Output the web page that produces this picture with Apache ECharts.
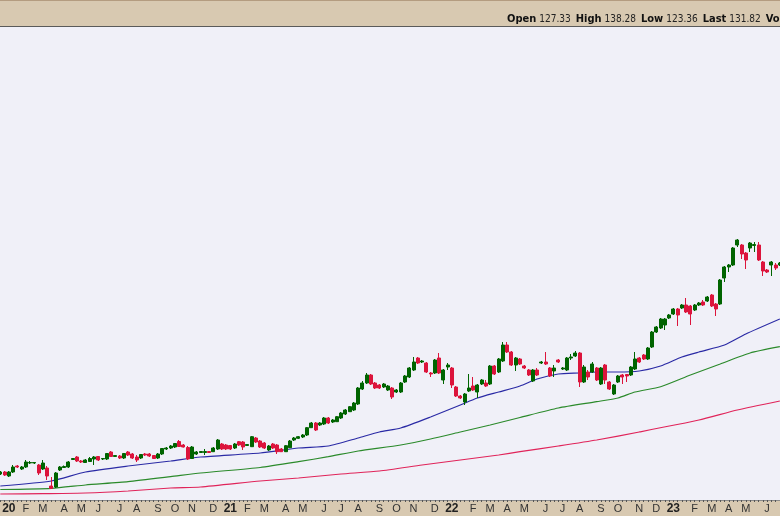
<!DOCTYPE html>
<html>
<head>
<meta charset="utf-8">
<script src="https://cdn.jsdelivr.net/npm/echarts@6/dist/echarts.min.js"></script>
<style>html,body{margin:0;padding:0;background:#d8c9b1;}#c{width:780px;height:516px;}</style>
</head>
<body>
<div id="c"></div>
<script>
// Weekly bars, first bar = week of 2019-12-23
const startWeek = '2019-12-23';
const monthLetters = ['J','F','M','A','M','J','J','A','S','O','N','D'];

const opens = [
28,29,27,29,32,30.5,31.5,33.5,33.5,32.5,
30.5,31,22,21.5,30,31.25,31.5,35.25,36.5,34.5,
33.75,34.25,35.5,36.75,35.5,35.5,39,36.75,37,36,
39,38,36.5,36,38,38,37.25,36,38,40.5,
41,41.5,44.25,42.5,41.25,35.75,38,38.75,38.75,39.25,
39.15,40.5,43,42.5,42.25,41,44.15,44,42.25,41.65,
46,44.5,43.5,40,43,42.5,40.5,39.15,41.15,45,
45.85,46.5,47.5,51.15,53.5,52.5,53,56,54,54.15,
56,58,59.15,60,63,70.5,73.5,77.5,73.5,72.5,
71.5,70,71,69,69,74,76.5,80,86,84,
83.5,78.5,78.5,86,75,81.5,81,71.5,67,64,
69.5,72,69,73,73.5,73,82,79,84.5,92.5,
89,82.5,85.5,82,80,74.5,80,83.5,84,81,
79.5,85,80.5,80,86,87,88.5,74,79,79,
81,73,82.5,74,68,74,77.5,77.75,77.5,80.5,
86,87.5,85.5,91.5,99,101,102.5,106,108,110.5,
111,112.5,112,110,112.5,114,114.5,117.5,113,113,
126,131.5,132.5,142.5,142.5,138.5,141,142.25,142.5,134,
130,132.5,132.5,132.5];
const closes = [
29,27.5,29,31.5,31.5,31.5,34,33.75,33.75,28.5,
33.5,27,20.75,28.5,31.5,31.75,34,35.75,34.5,34,
35,35.75,36.5,35,35.75,38.25,36.75,37.25,36,38.25,
37.5,36,35,37.75,37.5,37,35.75,38,40.75,41,
42,43.25,41.75,41.5,35.5,41.5,39,39.25,39.25,38.75,
41,45,40.5,40.5,40.5,43,42.5,41.5,42.75,46.65,
44,41.5,41,42,41,39.15,39.15,42.15,44.5,46,
46.65,47.5,51.15,53.5,50,53.5,56,53.5,55,56.65,
58.5,60,61.65,63.5,71,73.5,77.5,73,71,71,
73,72,66.5,70,73.5,77,81,84,83.5,84.5,
79,78,85,78.5,80,82.5,72.5,67,66,68,
71,70,72.5,75,72,82,78,85.5,92.5,89,
82.5,86,83,81,77.5,80,77.5,84,83,77,
81,84,81,86,86.5,88.5,74,81.5,76.5,83,
75,81,75,70.5,72.5,77,76.5,77,81.5,85.5,
84,85.5,91,99,101.5,105.5,105.5,107.5,110.5,107.5,
112.5,109,108,112.5,113.5,112.5,116.5,112,110.5,125,
131.5,132.5,141,145,138,135,143.5,142.75,135,129.5,
129,134,131,133.5];
const lows = [
27.5,27,26.5,28.5,31,30,31,33,33,27.5,
30,25,20.5,21,29.5,31,31,35,34,33.5,
33.5,34,32.5,34.5,35,35,36.5,36.5,35.5,35.5,
37,35.5,34,35.5,37,36.5,35.5,35.5,37.5,40,
40.5,41,41.5,41.25,35,35.5,37.5,38.5,37.5,38.5,
39,40,40,40,40,40.5,42,40,42,41.5,
43.5,41,40.5,39.5,40.5,38,39,39,41,44.5,
45.5,46,47,51,49.5,52,52.5,53,53.5,54,
55.5,57.5,59,59.5,62.5,70,73,72.5,70.5,70.5,
71,69.5,65.5,68.5,68.5,73.5,76,79.5,83,83.5,
78.5,76.5,78,78,73,80,71,66.5,65.5,62.5,
69,69.5,66,72.5,71.5,72.5,77.5,78.5,84,88.5,
82,79.5,82.5,80.5,77,74,77,83,82.5,76.5,
76.5,83.5,80,79.5,85,86.5,71.5,73.5,75,78.5,
74.5,72.5,73,70,67.5,73.5,73,74,77,80,
83.5,85,85,91,98.5,100.5,100,105.5,107.5,102,
110.5,108.5,102.5,109.5,112,112,114,111.5,107,112.5,
124,129,132,141.5,135.5,130.5,139,139,134.5,127,
128.5,127,130,132];
const highs = [
29.5,29.5,29.5,32.5,32.5,32,35,34.5,34,33,
35,32,26.5,29,32,32.25,34.5,36,37,35,
35.5,36.5,37,37,36,38.5,39.5,37.5,37.5,38.5,
39.5,38.5,37.5,38,38.5,38.5,37.5,38.5,41,41.5,
42.5,43.5,45,43,42,42,39.5,39.5,40.5,39.5,
41.5,45.5,43.5,43,42.5,43.5,44.5,44.5,43,47,
46.5,45,44,42.5,43.5,43,41,42.5,45,46.5,
47,48,51.5,54,54,54,56.5,56.5,55.5,57,
59,60.5,62,64,71.5,74.5,78.5,78,74,73,
73.5,72.5,71.5,70.5,74,77.5,81.5,86.5,86.5,85,
84,79,85.5,88.5,80.5,83.5,81.5,72,67.5,68.5,
78,76.5,73,75.5,75,82.5,82.5,86,94,94,
89.5,86.5,86,82.5,80.5,80.5,81,84.5,89,81.5,
82.5,85.5,81.5,86.5,88,89.5,89,82.5,80,84,
81.5,81.5,83,74.5,73,77.5,78,78,82,89,
86.5,88,91.5,99.5,102,106,106,108,111,111,
113,116,112.5,113,114,115,117,118,113.5,125.5,
132,133,141.5,145.5,143,139,144,144,144,134.5,
130.5,134.5,133.5,134];

// Moving averages: [week index, value]
const maBlue = [[0,22],[12,24.5],[20,29],[30,32],[40,34.5],[47,36.5],[61,38.5],[70,41],[77,42],[84,46],[89,49],[94,51],[101,56.5],[108,62.5],[112,66],[117,69],[122,72],[126,75.5],[131,78],[136,78.5],[140,79],[145,79],[150,79.5],[155,82],[160,86.5],[164,89],[170,92.5],[175,98],[183,105.5]];
const maGreen = [[0,20.25],[12,20.85],[20,22.5],[30,24.15],[40,26.65],[47,28.5],[61,31.25],[70,34.15],[77,36.65],[84,39.5],[94,42.5],[101,45.5],[108,49],[115,52.5],[122,56.25],[131,61],[140,64.15],[145,66],[149,69],[155,71.65],[162,77.5],[169,83],[176,88.5],[183,91.65]];
const maRed = [[0,18],[10,18.2],[20,18.5],[30,19.5],[40,21],[47,21.5],[61,24.5],[70,26],[80,28],[89,29.5],[99,32.5],[108,35],[117,37.5],[122,39.15],[131,42],[140,45],[150,49],[164,55],[173,60],[183,64.5]];

const headerItems = [['Open','127.33'],['High','138.28'],['Low','123.36'],['Last','131.82'],['Volume','']];

// build categories (weekly dates)
const weeks = [];
const t0 = Date.parse(startWeek + 'T00:00:00Z');
for (let i = 0; i < opens.length; i++) {
  const d = new Date(t0 + i * 7 * 86400000);
  weeks.push(d.toISOString().slice(0, 10));
}
const candleData = opens.map((o, i) => [o, closes[i], lows[i], highs[i]]);

const headerText = headerItems.map(h => '{b|' + h[0] + '}' + (h[1] ? '{n|' + h[1] + '}' : '')).join('');
const narrow = "'Liberation Sans Narrow', 'DejaVu Sans Condensed', Arial, sans-serif";

const chart = echarts.init(document.getElementById('c'));
chart.setOption({
  animation: false,
  backgroundColor: '#d8c9b1',
  grid: {
    left: -1.83, right: -2, top: 27, bottom: 16,
    show: true, backgroundColor: '#f0f0f8', borderWidth: 0,
    containLabel: false, outerBoundsMode: 'none'
  },
  xAxis: {
    type: 'category',
    data: weeks,
    boundaryGap: true,
    axisLine: { show: true, lineStyle: { color: '#8a8a8a', width: 1 } },
    axisTick: { show: true, interval: 0, alignWithLabel: true, length: 2, lineStyle: { color: '#555' } },
    splitLine: { show: false },
    axisLabel: {
      show: true,
      interval: function (idx, val) { return Number(val.slice(8, 10)) <= 7; },
      formatter: function (val) {
        const m = Number(val.slice(5, 7)) - 1;
        if (m === 0) return '{y|' + val.slice(2, 4) + '}';
        return monthLetters[m];
      },
      margin: 3,
      color: '#333',
      fontSize: 11,
      fontFamily: "'Liberation Sans', Arial, sans-serif",
      rich: { y: { fontWeight: 'bold', fontSize: 12, color: '#222', fontFamily: "'Liberation Sans', Arial, sans-serif" } }
    }
  },
  yAxis: {
    type: 'value', min: 15, max: 251.5, show: false,
    splitLine: { show: false }
  },
  graphic: [
    { type: 'line', shape: { x1: 0, y1: 0.5, x2: 780, y2: 0.5 }, style: { stroke: '#b49c80', lineWidth: 1 }, z: 100 },
    { type: 'line', shape: { x1: 0, y1: 26.5, x2: 780, y2: 26.5 }, style: { stroke: '#5a5a5a', lineWidth: 1 }, z: 100 },
    {
      type: 'text', left: 507, top: 14, z: 100,
      style: {
        text: headerText,
        rich: {
          b: { fontWeight: 'bold', fontSize: 11, fill: '#111', fontFamily: narrow, padding: [0, 3, 0, 0] },
          n: { fontSize: 10, fill: '#222', fontFamily: narrow, padding: [0, 5, 0, 0] }
        }
      }
    }
  ],
  series: [
    { type: 'line', data: maRed, showSymbol: false, smooth: 0.2, z: 2,
      lineStyle: { color: '#e0245a', width: 1.2 } },
    { type: 'line', data: maGreen, showSymbol: false, smooth: 0.2, z: 2,
      lineStyle: { color: '#2b8a2b', width: 1.2 } },
    { type: 'line', data: maBlue, showSymbol: false, smooth: 0.2, z: 2,
      lineStyle: { color: '#2a2aa5', width: 1.2 } },
    { type: 'candlestick', data: candleData, barWidth: 3.5, z: 3,
      itemStyle: { color: '#006400', color0: '#dc143c', borderColor: '#006400', borderColor0: '#dc143c', borderWidth: 1 } }
  ]
});
</script>
</body>
</html>
